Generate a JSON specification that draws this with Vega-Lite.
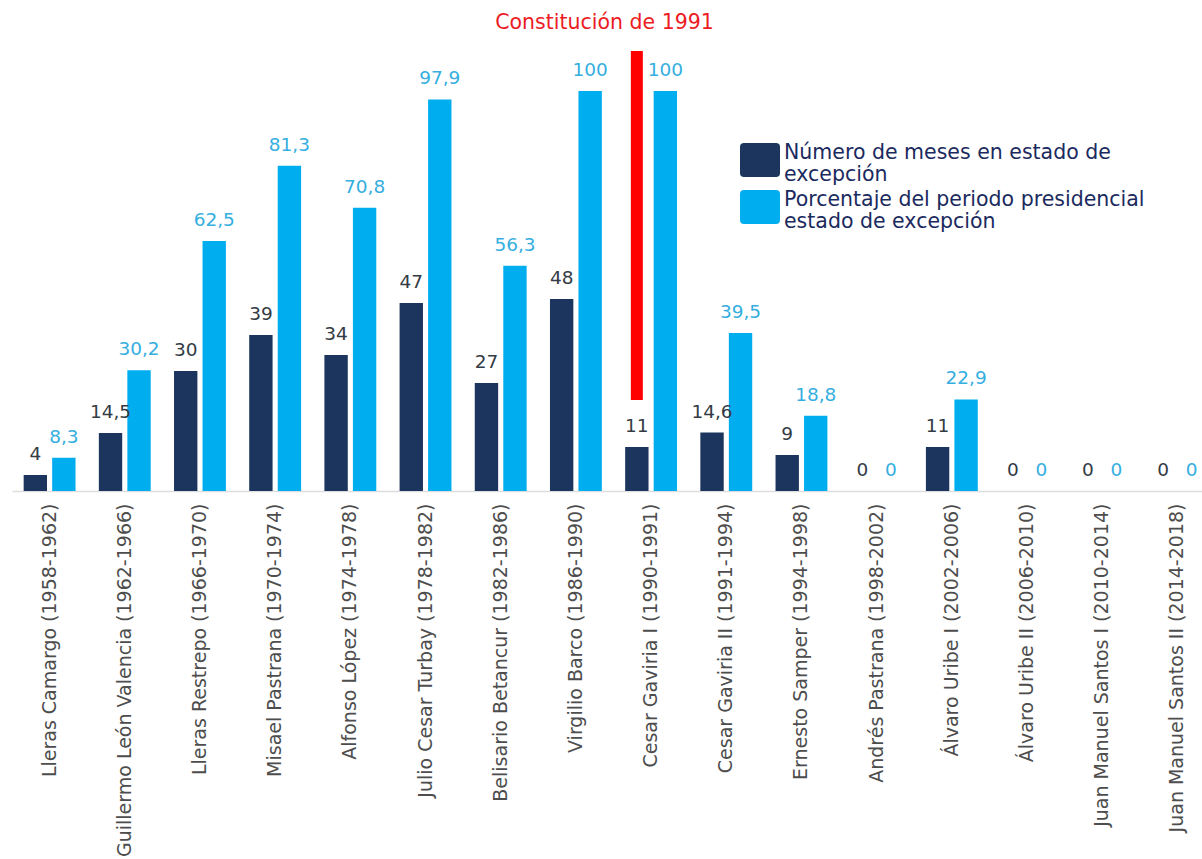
{
  "$schema": "https://vega.github.io/schema/vega-lite/v6.json",
  "autosize": "none",
  "width": 1203,
  "height": 440,
  "padding": {"left": 12, "top": 51, "right": 0, "bottom": 368},
  "background": "white",
  "config": {
    "view": {"stroke": null},
    "font": "DejaVu Sans",
    "locale": {"number": {"decimal": ",", "thousands": ".", "grouping": [3], "currency": ["", ""]}}
  },
  "title": {
    "text": "Constitución de 1991",
    "color": "#ec1c24",
    "fontSize": 20.5,
    "fontWeight": "normal",
    "anchor": "middle",
    "dx": -9,
    "offset": 18
  },
  "datasets": {
    "main": [
      {"presidente": "Lleras Camargo (1958-1962)", "serie": "meses", "valor": 4},
      {"presidente": "Lleras Camargo (1958-1962)", "serie": "porcentaje", "valor": 8.3},
      {"presidente": "Guillermo León Valencia (1962-1966)", "serie": "meses", "valor": 14.5},
      {"presidente": "Guillermo León Valencia (1962-1966)", "serie": "porcentaje", "valor": 30.2},
      {"presidente": "Lleras Restrepo (1966-1970)", "serie": "meses", "valor": 30},
      {"presidente": "Lleras Restrepo (1966-1970)", "serie": "porcentaje", "valor": 62.5},
      {"presidente": "Misael Pastrana (1970-1974)", "serie": "meses", "valor": 39},
      {"presidente": "Misael Pastrana (1970-1974)", "serie": "porcentaje", "valor": 81.3},
      {"presidente": "Alfonso López (1974-1978)", "serie": "meses", "valor": 34},
      {"presidente": "Alfonso López (1974-1978)", "serie": "porcentaje", "valor": 70.8},
      {"presidente": "Julio Cesar Turbay (1978-1982)", "serie": "meses", "valor": 47},
      {"presidente": "Julio Cesar Turbay (1978-1982)", "serie": "porcentaje", "valor": 97.9},
      {"presidente": "Belisario Betancur (1982-1986)", "serie": "meses", "valor": 27},
      {"presidente": "Belisario Betancur (1982-1986)", "serie": "porcentaje", "valor": 56.3},
      {"presidente": "Virgilio Barco (1986-1990)", "serie": "meses", "valor": 48},
      {"presidente": "Virgilio Barco (1986-1990)", "serie": "porcentaje", "valor": 100},
      {"presidente": "Cesar Gaviria I (1990-1991)", "serie": "meses", "valor": 11},
      {"presidente": "Cesar Gaviria I (1990-1991)", "serie": "porcentaje", "valor": 100},
      {"presidente": "Cesar Gaviria II (1991-1994)", "serie": "meses", "valor": 14.6},
      {"presidente": "Cesar Gaviria II (1991-1994)", "serie": "porcentaje", "valor": 39.5},
      {"presidente": "Ernesto Samper (1994-1998)", "serie": "meses", "valor": 9},
      {"presidente": "Ernesto Samper (1994-1998)", "serie": "porcentaje", "valor": 18.8},
      {"presidente": "Andrés Pastrana (1998-2002)", "serie": "meses", "valor": 0},
      {"presidente": "Andrés Pastrana (1998-2002)", "serie": "porcentaje", "valor": 0},
      {"presidente": "Álvaro Uribe I (2002-2006)", "serie": "meses", "valor": 11},
      {"presidente": "Álvaro Uribe I (2002-2006)", "serie": "porcentaje", "valor": 22.9},
      {"presidente": "Álvaro Uribe II (2006-2010)", "serie": "meses", "valor": 0},
      {"presidente": "Álvaro Uribe II (2006-2010)", "serie": "porcentaje", "valor": 0},
      {"presidente": "Juan Manuel Santos I (2010-2014)", "serie": "meses", "valor": 0},
      {"presidente": "Juan Manuel Santos I (2010-2014)", "serie": "porcentaje", "valor": 0},
      {"presidente": "Juan Manuel Santos II (2014-2018)", "serie": "meses", "valor": 0},
      {"presidente": "Juan Manuel Santos II (2014-2018)", "serie": "porcentaje", "valor": 0}
    ],
    "constitucion": [
      {"presidente": "Cesar Gaviria I (1990-1991)", "serie": "meses"}
    ]
  },
  "encoding": {
    "x": {
      "field": "presidente",
      "type": "nominal",
      "sort": null,
      "scale": {"paddingInner": 0.31, "paddingOuter": 0.155},
      "axis": {
        "title": null,
        "labelAngle": -90,
        "labelFontSize": 19,
        "labelColor": "#4d4d4d",
        "labelPadding": 12,
        "labelLimit": 0,
        "ticks": false,
        "domainColor": "#dddddd",
        "domainWidth": 1.5
      }
    },
    "xOffset": {
      "field": "serie",
      "type": "nominal",
      "sort": ["meses", "porcentaje"],
      "scale": {"paddingInner": 0.18, "paddingOuter": 0}
    }
  },
  "layer": [
    {
      "data": {"name": "main"},
      "mark": {"type": "bar"},
      "encoding": {
        "y": {
          "field": "valor",
          "type": "quantitative",
          "scale": {"domain": [0, 110], "nice": false},
          "axis": null
        },
        "color": {
          "field": "serie",
          "type": "nominal",
          "scale": {"domain": ["meses", "porcentaje"], "range": ["#1c355e", "#00aeef"]},
          "legend": {
            "orient": "none",
            "legendX": 728,
            "legendY": 89,
            "title": null,
            "padding": 0,
            "symbolType": "M -1 -0.65 Q -1 -0.85 -0.8 -0.85 H 0.8 Q 1 -0.85 1 -0.65 V 0.65 Q 1 0.85 0.8 0.85 H -0.8 Q -1 0.85 -1 0.65 Z",
            "symbolSize": 1600,
            "symbolStrokeWidth": 0,
            "labelFontSize": 20.5,
            "labelColor": "#1b2a5e",
            "labelLimit": 0,
            "labelOffset": 4,
            "rowPadding": 1,
            "labelExpr": "datum.label == 'meses' ? ['Número de meses en estado de', 'excepción'] : ['Porcentaje del periodo presidencial', 'estado de excepción']",
            "encode": {"labels": {"update": {"lineHeight": {"value": 22}, "dy": {"value": -7}}}}
          }
        }
      }
    },
    {
      "data": {"name": "main"},
      "mark": {"type": "text", "baseline": "bottom", "dy": -11, "fontSize": 18.5},
      "encoding": {
        "y": {"field": "valor", "type": "quantitative"},
        "text": {"field": "valor", "type": "quantitative", "format": ".1~f"},
        "color": {
          "condition": {"test": "datum.serie == 'meses'", "value": "#333b45"},
          "value": "#35aee0"
        }
      }
    },
    {
      "data": {"name": "constitucion"},
      "mark": {"type": "bar", "color": "#ff0000", "width": 12},
      "encoding": {
        "y": {"datum": 22.75},
        "y2": {"datum": 110}
      }
    }
  ]
}
